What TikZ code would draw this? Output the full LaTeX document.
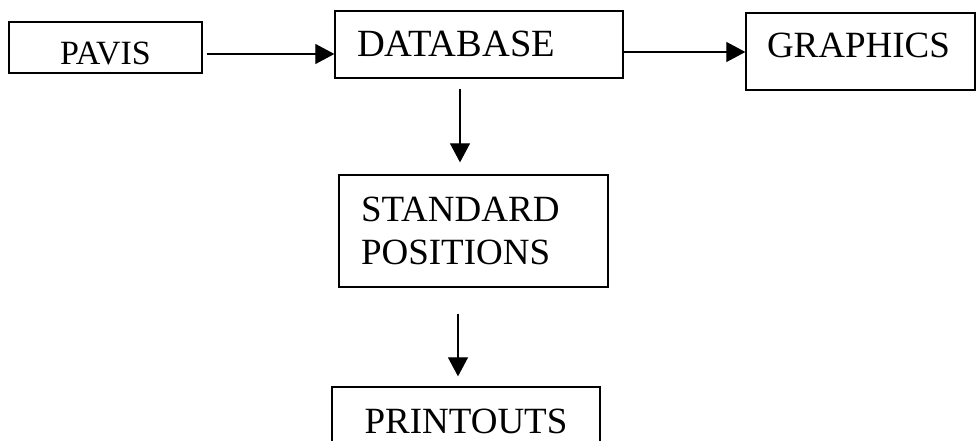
\documentclass[tikz,border=0pt]{standalone}
\usepackage{fontspec}
\setmainfont{Liberation Serif}
\usepackage{tikz}
\usetikzlibrary{arrows.meta}
\newcommand{\bigtext}{\fontsize{37}{43}\selectfont}
\newcommand{\smalltext}{\fontsize{34}{40}\selectfont}

\begin{document}
\begin{tikzpicture}[x=1pt, y=-1pt, >={Triangle[length=19pt,width=20pt]},
    box/.style={draw, line width=1.3pt, inner ysep=0pt, font=\bigtext},
    flow/.style={->, line width=1.2pt}]
        \clip (0, 0) rectangle (976, 441);

        \node[box, font=\smalltext, minimum width=193pt, minimum height=51pt, text height=35pt, text depth=0pt] (pavis) at (105.5, 47.5) {PAVIS};
        \node[box, font=\fontsize{38.5}{45}\selectfont, minimum width=288pt, minimum height=67pt, text width=244pt, inner xsep=22pt, align=left, text height=25pt, text depth=0pt] (database) at (479, 44.5) {DATABASE};
        \node[box, minimum width=229pt, minimum height=77pt, text width=187pt, inner xsep=21pt, align=left, text height=12pt, text depth=0pt] (graphics) at (860.5, 51.5) {GRAPHICS};
        \node[box, minimum width=269pt, minimum height=112pt, text width=225pt, inner xsep=22pt, align=left] (standard) at (473.5, 231) {STANDARD\\POSITIONS};
        \node[box, minimum width=268pt, minimum height=68pt, text height=24pt, text depth=0pt] (printouts) at (466, 421) {PRINTOUTS};

        \draw[flow, shorten <=4pt] ([yshift=-6.5pt]pavis.east) to ([yshift=-6.5pt]pavis.east -| database.west);
        \draw[flow] ([yshift=-7.5pt]database.east) to ([yshift=-7.5pt]database.east -| graphics.west);
        \draw[flow, shorten <=10pt, shorten >=12pt] ([xshift=-19pt]database.south) to ([xshift=-19pt]database.south |- standard.north);
        \draw[flow, shorten <=26pt, shorten >=10pt] ([xshift=-15.5pt]standard.south) to ([xshift=-15.5pt]standard.south |- printouts.north);
      \end{tikzpicture}
\end{document}
